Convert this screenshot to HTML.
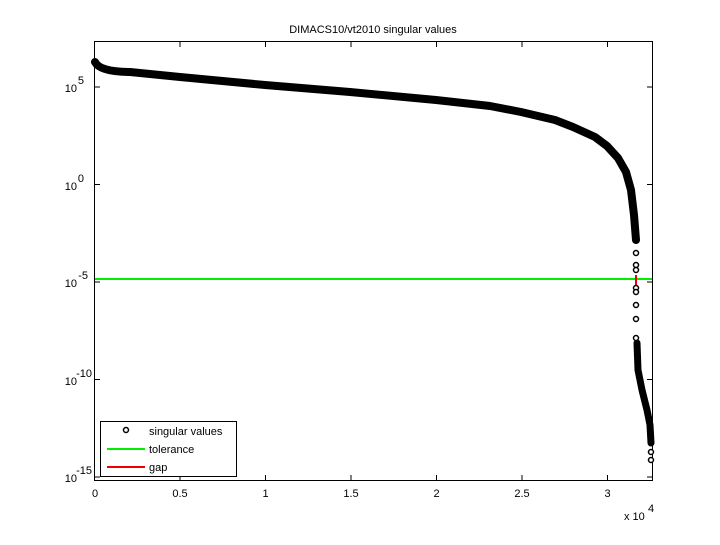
<!DOCTYPE html>
<html><head><style>
body{margin:0;background:#fff;}
svg text{font-family:"Liberation Sans",sans-serif;font-size:11px;fill:#000;}
</style></head><body>
<svg width="720" height="540" xmlns="http://www.w3.org/2000/svg">
<rect width="720" height="540" fill="#fff"/>
<text x="373" y="33" text-anchor="middle" font-size="12">DIMACS10/vt2010 singular values</text>
<rect x="94.5" y="41.5" width="558" height="439" fill="none" stroke="#000" stroke-width="1"/>
<g stroke="#000" stroke-width="1">
<line x1="94.5" y1="87" x2="100" y2="87"/><line x1="652" y1="87" x2="647" y2="87"/>
<line x1="94.5" y1="184.5" x2="100" y2="184.5"/><line x1="652" y1="184.5" x2="647" y2="184.5"/>
<line x1="94.5" y1="282" x2="100" y2="282"/><line x1="652" y1="282" x2="647" y2="282"/>
<line x1="94.5" y1="379.5" x2="100" y2="379.5"/><line x1="652" y1="379.5" x2="647" y2="379.5"/>
<line x1="94.5" y1="477" x2="100" y2="477"/><line x1="652" y1="477" x2="647" y2="477"/>
<line x1="180" y1="481" x2="180" y2="475"/><line x1="180" y1="41" x2="180" y2="47"/>
<line x1="265.5" y1="481" x2="265.5" y2="475"/><line x1="265.5" y1="41" x2="265.5" y2="47"/>
<line x1="351" y1="481" x2="351" y2="475"/><line x1="351" y1="41" x2="351" y2="47"/>
<line x1="436.5" y1="481" x2="436.5" y2="475"/><line x1="436.5" y1="41" x2="436.5" y2="47"/>
<line x1="522" y1="481" x2="522" y2="475"/><line x1="522" y1="41" x2="522" y2="47"/>
<line x1="607.5" y1="481" x2="607.5" y2="475"/><line x1="607.5" y1="41" x2="607.5" y2="47"/>
</g>
<g text-anchor="middle">
<text x="95" y="497">0</text><text x="180" y="497">0.5</text><text x="265.5" y="497">1</text>
<text x="351" y="497">1.5</text><text x="436.5" y="497">2</text><text x="522" y="497">2.5</text><text x="607.5" y="497">3</text>
</g>
<text x="624" y="520">x 10</text><text x="648" y="512" font-size="8">4</text>
<g text-anchor="end">
<text x="77" y="92">10</text><text x="84" y="84" font-size="8">5</text>
<text x="77" y="190">10</text><text x="84" y="182" font-size="8">0</text>
<text x="77" y="287">10</text><text x="88" y="279" font-size="8">-5</text>
<text x="77" y="385">10</text><text x="92" y="377" font-size="8">-10</text>
<text x="77" y="482">10</text><text x="92" y="474" font-size="8">-15</text>
</g>
<line x1="95" y1="279" x2="652" y2="279" stroke="#00ee00" stroke-width="2"/>
<g fill="none" stroke="#000" stroke-linecap="round" stroke-linejoin="round">
<path d="M95,62 Q100,72 130,72 L180,77 L265,85 L350,92 L436,100 L490,106 L521,112 L555,120 L573,127 L595,137 L607,146 L618,158 L626,172 L631,190 L634,215 L636,240" stroke-width="8"/>
<path d="M637,343 L638,370 L642,390 L647,410 L650,425 L651,443" stroke-width="7"/>
</g>
<g fill="#fff" stroke="#000" stroke-width="1.5">
<circle cx="636" cy="253" r="2.5"/><circle cx="636" cy="265" r="2.5"/><circle cx="636" cy="270" r="2.5"/>
<circle cx="636" cy="288" r="2.5"/><circle cx="636" cy="292" r="2.5"/><circle cx="636" cy="305" r="2.5"/>
<circle cx="636" cy="319" r="2.5"/><circle cx="636" cy="338" r="2.5"/>
<circle cx="651" cy="452" r="2.5"/><circle cx="651" cy="460" r="2.5"/>
</g>
<line x1="636" y1="275" x2="636" y2="285" stroke="#ee0000" stroke-width="2"/>
<rect x="100.5" y="421.5" width="136" height="55" fill="#fff" stroke="#000"/>
<circle cx="126" cy="430" r="2.5" fill="#fff" stroke="#000" stroke-width="1.5"/>
<text x="149" y="435">singular values</text>
<line x1="107" y1="449" x2="145" y2="449" stroke="#00ee00" stroke-width="2"/>
<text x="149" y="453">tolerance</text>
<line x1="107" y1="467" x2="145" y2="467" stroke="#ee0000" stroke-width="2"/>
<text x="149" y="471">gap</text>
</svg>
</body></html>
